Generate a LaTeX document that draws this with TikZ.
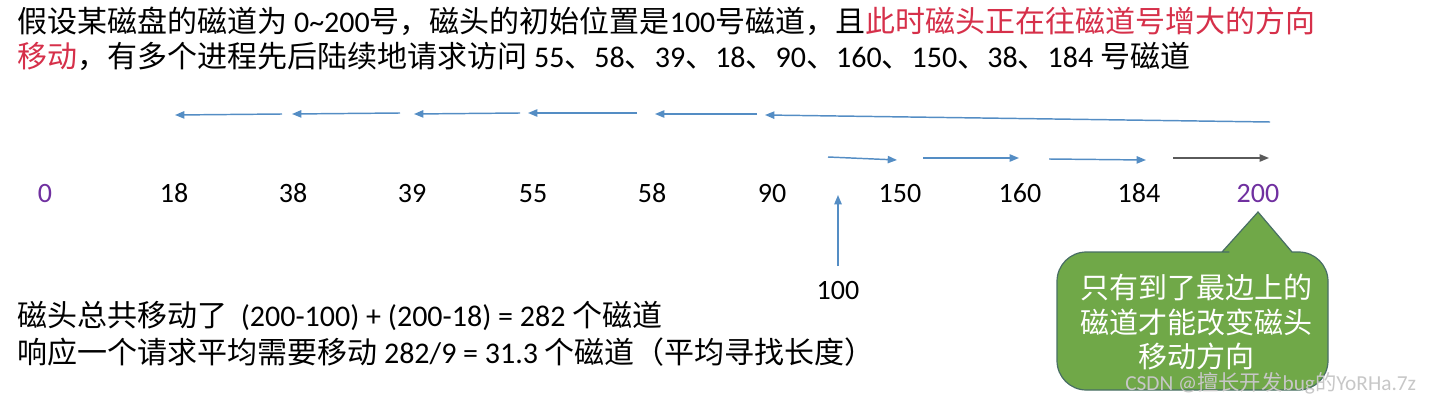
\documentclass[tikz,border=0pt]{standalone}
\usepackage{fontspec}
\setmainfont{Carlito}
\newfontfamily\cjk{Noto Sans CJK SC}
\usetikzlibrary{arrows.meta}
\definecolor{hl}{RGB}{214,48,74}
\definecolor{pur}{RGB}{112,48,160}
\definecolor{arr}{RGB}{84,141,196}
\definecolor{arrd}{RGB}{90,90,90}
\definecolor{cfill}{RGB}{112,168,72}
\definecolor{cdraw}{RGB}{72,110,100}
\newcommand\zh[1]{{\cjk #1}}
\begin{document}
\begin{tikzpicture}[x=0.75pt,y=-0.75pt,
  txt/.style={anchor=base west,inner sep=0pt,font=\fontsize{22.5}{26}\selectfont},
  num/.style={anchor=base,inner sep=0pt,font=\fontsize{21}{24}\selectfont},
  mv/.style={draw=arr,line width=1.1pt,-{Triangle[length=7pt,width=5.5pt]}},
  callout/.style={fill=cfill,draw=cdraw,line width=0.9pt},
  ctext/.style={anchor=base,inner sep=0pt,text=white,font=\cjk\fontsize{21.75}{24}\selectfont}]
\useasboundingbox (0,0) rectangle (1432,403);
% top text
\node[txt] (l1) at (17,32.5) {\zh{假设某磁盘的磁道为} 0\textasciitilde200\zh{号，磁头的初始位置是}100\zh{号磁道，且}\textcolor{hl}{\zh{此时磁头正在往磁道号增大的方向}}};
\node[txt] (l2) at (17,67.5) {\textcolor{hl}{\zh{移动}}\zh{，有多个进程先后陆续地请求访问} 55\zh{、}58\zh{、}39\zh{、}18\zh{、}90\zh{、}160\zh{、}150\zh{、}38\zh{、}184 \zh{号磁道}};
% track labels
\node[num,text=pur] (t0) at (45,202) {0};
\node[num] (t18) at (174,202) {18};
\node[num] (t38) at (293,202) {38};
\node[num] (t39) at (412,202) {39};
\node[num] (t55) at (533,202) {55};
\node[num] (t58) at (652,202) {58};
\node[num] (t90) at (772,202) {90};
\node[num] (t150) at (900,202) {150};
\node[num] (t160) at (1020,202) {160};
\node[num] (t184) at (1139,202) {184};
\node[num,text=pur] (t200) at (1258,202) {200};
\node[num] (t100) at (838,299) {100};
% arrow endpoints
\coordinate (a1s) at (282,114); \coordinate (a1e) at (175,115);
\coordinate (a2s) at (400,113); \coordinate (a2e) at (292,114);
\coordinate (a3s) at (520,113); \coordinate (a3e) at (414,114);
\coordinate (a4s) at (637,113); \coordinate (a4e) at (528,113);
\coordinate (a5s) at (757,114); \coordinate (a5e) at (655,114);
\coordinate (a6s) at (1270,122); \coordinate (a6e) at (765,115);
\coordinate (b1s) at (828,157); \coordinate (b1e) at (897,160);
\coordinate (b2s) at (923,158); \coordinate (b2e) at (1019,158);
\coordinate (b3s) at (1049,159); \coordinate (b3e) at (1146,160);
\coordinate (b4s) at (1173,158); \coordinate (b4e) at (1269,158);
\coordinate (us) at (838,266); \coordinate (ue) at (838,195);
\draw[mv] (a1s) -- (a1e);
\draw[mv] (a2s) -- (a2e);
\draw[mv] (a3s) -- (a3e);
\draw[mv] (a4s) -- (a4e);
\draw[mv] (a5s) -- (a5e);
\draw[mv] (a6s) -- (a6e);
\draw[mv] (b1s) -- (b1e);
\draw[mv] (b2s) -- (b2e);
\draw[mv] (b3s) -- (b3e);
\draw[mv,draw=arrd] (b4s) -- (b4e);
\draw[mv] (us) -- (ue);
% callout
\draw[callout] (1200,252) -- (1222,252) -- (1258,212) -- (1292,252) [rounded corners=22] -- (1328,252) -- (1328,390) -- (1057,390) -- (1057,252) -- cycle;
\node[ctext] (c1) at (1196,298) {只有到了最边上的};
\node[ctext] (c2) at (1196,333) {磁道才能改变磁头};
\node[ctext] (c3) at (1196,367) {移动方向};
% bottom text
\node[txt] (s1) at (17,326) {\zh{磁头总共移动了}\ \ (200-100) + (200-18) = 282 \zh{个磁道}};
\node[txt] (s2) at (17,363) {\zh{响应一个请求平均需要移动} 282/9 = 31.3 \zh{个磁道（平均寻找长度）}};
% watermark
\node[anchor=base west,inner sep=0pt,text=black!22,font=\fontsize{16}{18}\selectfont] (wm) at (1125,390) {CSDN @\zh{擅长开发}bug\zh{的}YoRHa.7z};
\end{tikzpicture}
\end{document}
